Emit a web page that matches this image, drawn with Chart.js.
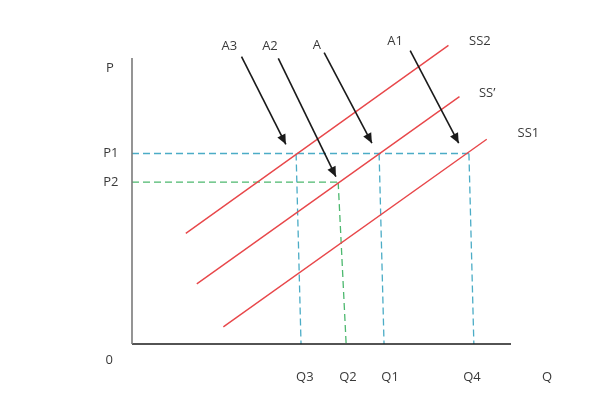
<!DOCTYPE html>
<html><head><meta charset="utf-8">
<script src="https://cdn.jsdelivr.net/npm/chart.js@4"></script>
<style>html,body{margin:0;padding:0;background:#fff}</style>
</head><body>
<canvas id="c" width="601" height="403"></canvas>
<script>
// ---- data (Q and P in chart units; origin = axis corner) ----
const supplyNames = ['SS2', 'SS\u2019', 'SS1'];
const supplyStart = [[14.2, 38.7], [17.1, 21.0], [24.1, 6.0]];
const supplyEnd = [[83.5, 104.4], [86.4, 86.5], [93.6, 71.6]];
const supplyLabelPos = [[91.8, 105.8], [93.7, 87.8], [104.6, 73.7]];

const priceNames = ['P1', 'P2'];
const priceValues = [66.6, 56.6];
const priceLineEnd = [88.9, 54.4];
const priceColors = ['#4bacc6', '#4cb86e'];

const quantityNames = ['Q3', 'Q2', 'Q1', 'Q4'];
const quantityAtPrice = [43.3, 54.4, 65.2, 88.9];
const quantityAtAxis = [44.6, 56.5, 66.5, 90.2];
const quantityPrice = [66.6, 56.6, 66.6, 66.6];
const quantityLabelX = [45.6, 57.0, 68.1, 89.7];
const quantityColors = ['#4bacc6', '#4cb86e', '#4bacc6', '#4bacc6'];

const arrowNames = ['A3', 'A2', 'A', 'A1'];
const arrowTails = [[28.9, 100.5], [38.6, 99.9], [50.7, 101.9], [73.4, 102.6]];
const arrowTips = [[40.6, 69.8], [53.8, 58.5], [63.3, 70.2], [86.2, 70.2]];
const arrowLabelPos = [[25.7, 104.2], [36.4, 104.2], [48.8, 104.5], [69.4, 105.8]];

const axisNames = ['P', 'Q', '0'];
const axisLabelPos = [[-5.8, 96.5], [109.5, -11.5], [-6.0, -5.6]];
const priceLabelX = -5.6;
const quantityLabelY = -11.5;

// ---- build datasets ----
const pt = (a) => ({x: a[0], y: a[1]});
const datasets = [];
datasets.push({data: [{x: 0, y: 0}, {x: 0, y: 100}], borderColor: '#7a7a7a', borderWidth: 1.6});
datasets.push({data: [{x: 0, y: 0}, {x: 100, y: 0}], borderColor: '#1a1a1a', borderWidth: 1.6});
arrowNames.forEach((n, i) => datasets.push({
  data: [pt(arrowTails[i]), pt(arrowTips[i])], borderColor: '#1a1a1a', borderWidth: 1.6
}));
supplyNames.forEach((n, i) => datasets.push({
  data: [pt(supplyStart[i]), pt(supplyEnd[i])], borderColor: '#e8474a', borderWidth: 1.4
}));
priceNames.forEach((n, i) => datasets.push({
  data: [{x: 0, y: priceValues[i]}, {x: priceLineEnd[i], y: priceValues[i]}],
  borderColor: priceColors[i], borderWidth: 1.3, borderDash: [7, 4]
}));
quantityNames.forEach((n, i) => datasets.push({
  data: [{x: quantityAtPrice[i], y: quantityPrice[i]}, {x: quantityAtAxis[i], y: 0}],
  borderColor: quantityColors[i], borderWidth: 1.3, borderDash: [7, 4]
}));
datasets.forEach(d => { d.showLine = true; d.pointRadius = 0; d.clip = false; d.tension = 0; d.fill = false; });

const FONT = '13px "Open Sans", "Liberation Sans", sans-serif';
const TEXT = '#3a3a3a';

const annotate = {
  id: 'annotate',
  afterDatasetsDraw(chart) {
    const ctx = chart.ctx, xs = chart.scales.x, ys = chart.scales.y;
    const X = v => xs.getPixelForValue(v), Y = v => ys.getPixelForValue(v);
    // arrowheads
    ctx.save();
    ctx.fillStyle = '#1a1a1a';
    arrowTips.forEach((tip, i) => {
      const tx = X(tip[0]), ty = Y(tip[1]);
      const sx = X(arrowTails[i][0]), sy = Y(arrowTails[i][1]);
      const ang = Math.atan2(ty - sy, tx - sx);
      const L = 10, W = 4.5;
      ctx.beginPath();
      ctx.moveTo(tx, ty);
      ctx.lineTo(tx - L * Math.cos(ang) + W * Math.sin(ang), ty - L * Math.sin(ang) - W * Math.cos(ang));
      ctx.lineTo(tx - L * Math.cos(ang) - W * Math.sin(ang), ty - L * Math.sin(ang) + W * Math.cos(ang));
      ctx.closePath();
      ctx.fill();
    });
    // texts
    ctx.font = FONT;
    ctx.fillStyle = TEXT;
    ctx.textAlign = 'center';
    ctx.textBaseline = 'middle';
    const put = (t, p) => ctx.fillText(t, X(p[0]), Y(p[1]));
    arrowNames.forEach((n, i) => put(n, arrowLabelPos[i]));
    supplyNames.forEach((n, i) => put(n, supplyLabelPos[i]));
    axisNames.forEach((n, i) => put(n, axisLabelPos[i]));
    priceNames.forEach((n, i) => put(n, [priceLabelX, priceValues[i]]));
    quantityNames.forEach((n, i) => put(n, [quantityLabelX[i], quantityLabelY]));
    ctx.restore();
  }
};

new Chart(document.getElementById('c'), {
  type: 'scatter',
  data: {datasets},
  options: {
    responsive: false,
    animation: false,
    devicePixelRatio: 1,
    layout: {padding: {left: 132, right: 90, top: 58, bottom: 59}},
    plugins: {legend: {display: false}, tooltip: {enabled: false}},
    scales: {
      x: {type: 'linear', min: 0, max: 100, display: false},
      y: {type: 'linear', min: 0, max: 100, display: false}
    }
  },
  plugins: [annotate]
});
</script>
</body></html>
